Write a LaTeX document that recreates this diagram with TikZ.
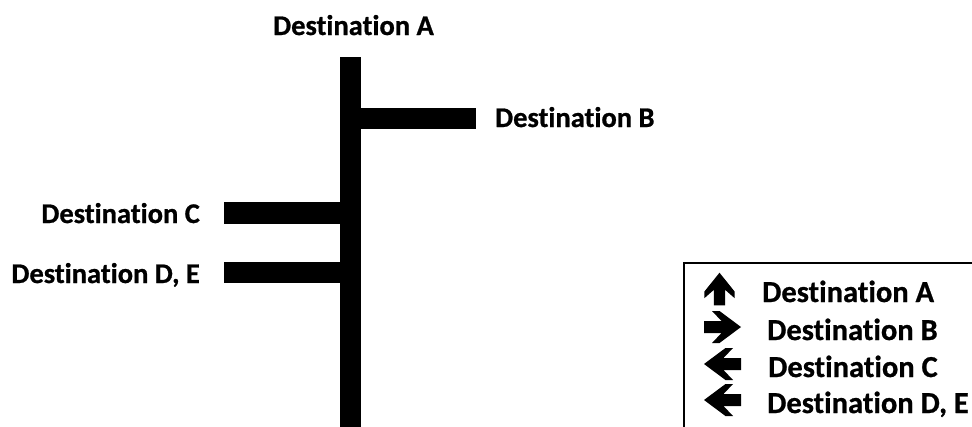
\documentclass[tikz,border=0pt]{standalone}
\usepackage{fontspec}
\setmainfont{Carlito}[Ligatures=NoCommon, BoldFeatures={FakeBold=0.8}]
\usetikzlibrary{calc, positioning}

\tikzset{
  road/.style={draw=none, fill=black},
  dest/.style={font=\fontsize{28.5}{32}\selectfont\bfseries, inner sep=0pt},
  legtext/.style={font=\fontsize{30.5}{34}\selectfont\bfseries, inner sep=0pt, anchor=base west},
  pics/signarrow/.style={code={
    \fill (18.5,0) -- (-3,16) -- (-10.5,16) -- (-1,6) -- (-18.5,6) -- (-18.5,-6)
      -- (-1,-6) -- (-10.5,-16) -- (-3,-16) -- cycle;
  }}
}

\begin{document}
\begin{tikzpicture}[x=1pt, y=-1pt]
                \useasboundingbox (0,0) rectangle (972,426);

                \coordinate (O) at (340,57);

                % main road
                \fill[road] (O) rectangle ++(21,373);

                % branch to B
                \fill[road] ($ (O) + (21,51) $) rectangle ++(115,21);

                % branches to C and D, E
                \fill[road] ($ (O) + (-116,145) $) rectangle ++(116,22);
                \fill[road] ($ (O) + (-116,205) $) rectangle ++(116,21);

                % destinations
                \node[dest, anchor=base] (destA) at (353.5,35) {Destination A};
                \node[dest, anchor=base west] (destB) at (495,127) {Destination B};
                \node[dest, anchor=base east] (destC) at (200,223) {Destination C};
                \node[dest, anchor=base east] (destDE) at (200,283) {Destination D, E};

                % legend
                \coordinate (L) at (684,263);
                \draw[line width=1.5pt] ($ (L) + (320,0) $) -- (L) -- ++(0,200);

                \pic[rotate=90, xscale=0.88, yscale=0.95] at ($ (L) + (35.5,26) $) {signarrow};
                \pic at ($ (L) + (38.5,64) $) {signarrow};
                \pic[rotate=180] at ($ (L) + (38.5,101) $) {signarrow};
                \pic[rotate=180] at ($ (L) + (38.5,137) $) {signarrow};

                \node[legtext] (legA) at ($ (L) + (78,39) $) {Destination A};
                \node[legtext] (legB) at ($ (L) + (83,77) $) {Destination B};
                \node[legtext] (legC) at ($ (L) + (84,114) $) {Destination C};
                \node[legtext] (legDE) at ($ (L) + (83,150) $) {Destination D, E};

\end{tikzpicture}
\end{document}
